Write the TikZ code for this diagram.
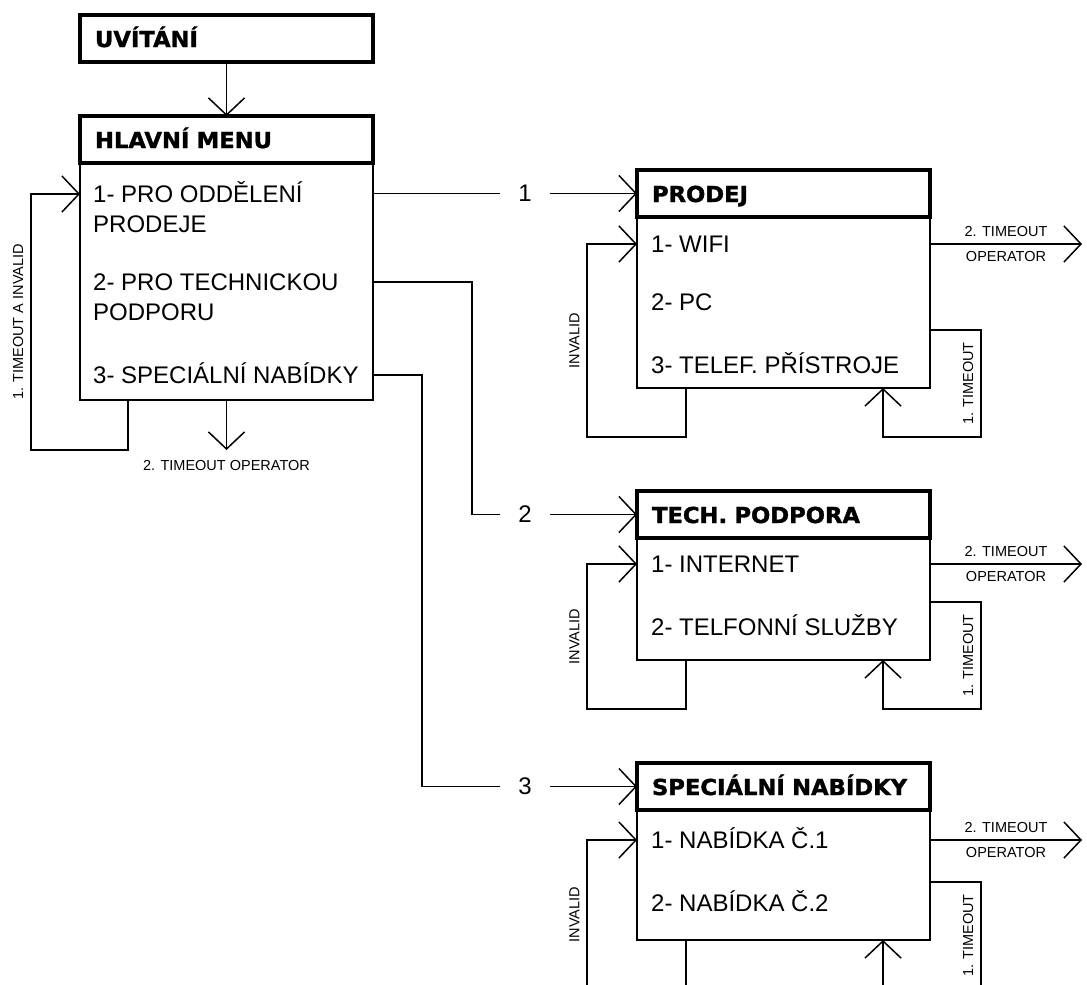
\documentclass[tikz,border=0pt]{standalone}
\usepackage{fontspec}
\setmainfont{Liberation Sans}
\newfontfamily\headfont{DejaVu Sans}[FakeStretch=1.03,FakeBold=1.6]
\usepackage{tikz}
\usetikzlibrary{arrows.meta,positioning,calc}
\newcommand{\itemsize}{\fontsize{24}{29}\selectfont}
\newcommand{\lblsize}{\fontsize{14.5}{17}\selectfont}

\begin{document}
\begin{tikzpicture}[
  x=1pt,y=-1pt,
  head/.style={draw,line width=4pt,anchor=north west,outer sep=0pt,inner xsep=15pt,
               minimum width=293pt,minimum height=47pt,text width=263pt,align=left,
               text height=17pt,text depth=0pt,font=\headfont\bfseries\fontsize{22}{26}\selectfont},
  body/.style={draw,line width=1.5pt,anchor=north west,outer sep=0pt,minimum width=293pt},
  item/.style={anchor=base west,inner sep=0pt,text height=16pt,text depth=0pt,font=\itemsize},
  num/.style={minimum width=50pt,inner sep=0pt,font=\itemsize},
  lbl/.style={font=\lblsize,inner sep=2pt},
  vlbl/.style={lbl,rotate=90,anchor=south,inner ysep=7pt},
  ln/.style={line width=1.5pt},
  fl/.style={ln,-{Straight Barb[length=17pt,width=36pt]}}
]
\useasboundingbox (0,0) rectangle (1087,985);
\clip (0,0) rectangle (1087,985);
\node[head] (welcome) at (80,15) {UVÍTÁNÍ};
\node[body,minimum height=237pt] (menub) at (80,163) {};
\node[head] (menu) at (80,116) {HLAVNÍ MENU};
\node[item] (m1a) at (93,202) {1- PRO ODDĚLENÍ};
\node[item] (m1b) at (93,232) {PRODEJE};
\node[item] (m2a) at (93,290) {2- PRO TECHNICKOU};
\node[item] (m2b) at (93,320) {PODPORU};
\node[item] (m3) at (93,383) {3- SPECIÁLNÍ NABÍDKY};
\node[body,minimum height=171pt] (salesb) at (637,217) {};
\node[head] (sales) at (637,170) {PRODEJ};
\node[item] (s1) at (651,252) {1- WIFI};
\node[item] (s2) at (651,310) {2- PC};
\node[item] (s3) at (651,373) {3- TELEF. PŘÍSTROJE};
\node[body,minimum height=122pt] (techb) at (637,538) {};
\node[head] (tech) at (637,491) {TECH. PODPORA};
\node[item] (t1) at (651,572) {1- INTERNET};
\node[item] (t2) at (651,635) {2- TELFONNÍ SLUŽBY};
\node[body,minimum height=130pt] (offersb) at (637,810) {};
\node[head] (offers) at (637,763) {SPECIÁLNÍ NABÍDKY};
\node[item] (o1) at (651,848) {1- NABÍDKA Č.1};
\node[item] (o2) at (651,911) {2- NABÍDKA Č.2};
\node[num] (n1) at (525,193.5) {1};
\node[num] (n2) at (525,514.5) {2};
\node[num] (n3) at (525,786.5) {3};
\draw[fl] (welcome) -- (menu);
\draw[fl] ($(menub.south west)+(48,0)$) -- ++(0,50) -- ++(-97,0)
      |- node[vlbl,pos=0.25]{1. TIMEOUT A INVALID} (menub.west |- m1a);
\draw[fl] (menub.south) -- ++(0,50) node[lbl,below=8pt]{2. TIMEOUT OPERATOR};
\draw[ln] (menub.east |- n1) -- (n1);
\draw[fl] (n1) -- (sales);
\draw[ln] (menub.east |- m2a) -- ++(99,0) |- (n2);
\draw[fl] (n2) -- (tech);
\draw[ln] (menub.east |- m3) -- ++(49,0) |- (n3);
\draw[fl] (n3) -- (offers);
\draw[fl] ($(salesb.south west)+(49,0)$) -- ++(0,49) -- ++(-99,0)
      |- node[vlbl,pos=0.25]{INVALID} (salesb.west |- s1);
\draw[fl] ($(salesb.south east)+(0,-58)$) -- ++(51,0) -- node[vlbl]{1. TIMEOUT} ++(0,107)
      -| ($(salesb.south east)+(-47,0)$);
\draw[fl] (salesb.east |- s1) -- node[lbl,above=5pt]{2. TIMEOUT} node[lbl,below=5pt]{OPERATOR} ++(152,0);
\draw[fl] ($(techb.south west)+(49,0)$) -- ++(0,49) -- ++(-99,0)
      |- node[vlbl,pos=0.25]{INVALID} (techb.west |- t1);
\draw[fl] ($(techb.south east)+(0,-58)$) -- ++(51,0) -- node[vlbl]{1. TIMEOUT} ++(0,107)
      -| ($(techb.south east)+(-47,0)$);
\draw[fl] (techb.east |- t1) -- node[lbl,above=5pt]{2. TIMEOUT} node[lbl,below=5pt]{OPERATOR} ++(152,0);
\draw[fl] ($(offersb.south west)+(49,0)$) -- ++(0,49) -- ++(-99,0)
      |- node[vlbl,pos=0.25]{INVALID} (offersb.west |- o1);
\draw[fl] ($(offersb.south east)+(0,-58)$) -- ++(51,0) -- node[vlbl]{1. TIMEOUT} ++(0,107)
      -| ($(offersb.south east)+(-47,0)$);
\draw[fl] (offersb.east |- o1) -- node[lbl,above=5pt]{2. TIMEOUT} node[lbl,below=5pt]{OPERATOR} ++(152,0);
\end{tikzpicture}
\end{document}
